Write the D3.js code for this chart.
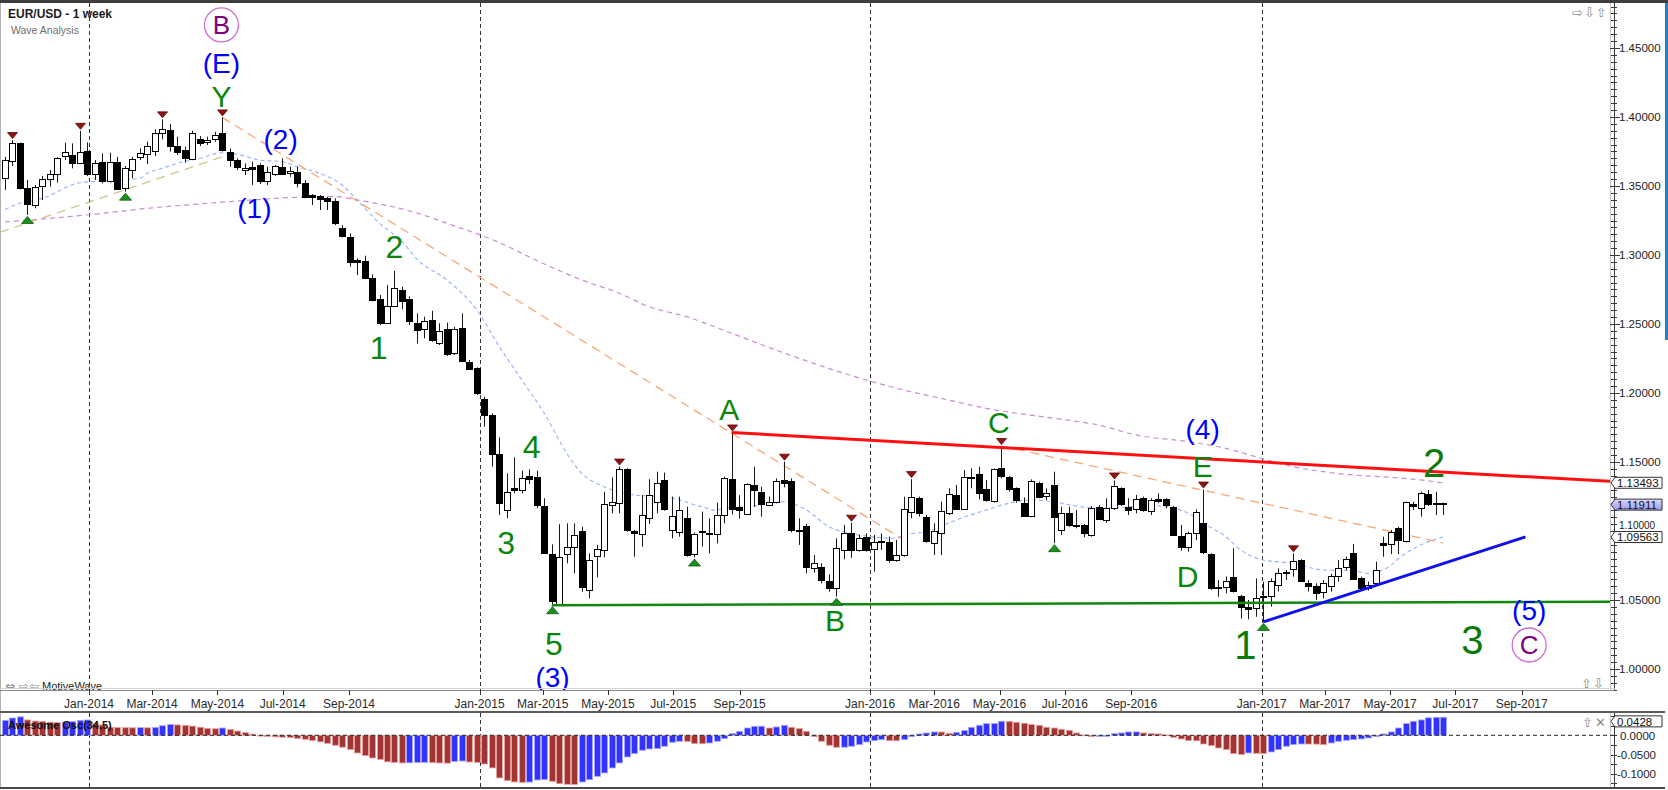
<!DOCTYPE html>
<html>
<head>
<meta charset="utf-8">
<script src="https://cdn.jsdelivr.net/npm/d3@7"></script>
<style>
  html, body { margin: 0; padding: 0; background: #fff; }
  svg { display: block; font-family: "Liberation Sans", Arial, sans-serif; }
</style>
</head>
<body>
<div id="viz"></div>
<script>
// EUR/USD weekly bars (one bar per week, starting Monday)
const firstWeek = "2013-10-14";

const opens = [
  1.3555,1.3676,1.3809,1.3483,1.3360,1.3500,1.3548,1.3587,1.3712,1.3725,
  1.3669,1.3753,1.3587,1.3676,1.3539,1.3676,1.3483,1.3611,1.3707,1.3737,
  1.3753,1.3881,1.3906,1.3792,1.3761,1.3693,1.3838,1.3816,1.3840,1.3886,
  1.3749,1.3688,1.3621,1.3640,1.3652,1.3538,1.3587,1.3640,1.3597,1.3604,
  1.3524,1.3434,1.3430,1.3415,1.3393,1.3193,1.3128,1.2964,1.2955,1.2835,
  1.2678,1.2505,1.2630,1.2746,1.2679,1.2505,1.2468,1.2529,1.2360,1.2461,
  1.2287,1.2473,1.2227,1.2179,1.1954,1.1841,1.1558,1.1152,1.1309,1.1297,
  1.1399,1.1394,1.1181,1.0831,1.0471,1.0833,1.0886,1.1000,1.0573,1.0819,
  1.0862,1.1189,1.1206,1.1449,1.1001,1.0979,1.1092,1.1205,1.1370,1.1007,
  1.0995,1.1092,1.0831,1.0997,1.0985,1.0978,1.1116,1.1377,1.1176,1.1123,
  1.1333,1.1285,1.1188,1.1212,1.1370,1.1362,1.1005,1.1036,1.0730,1.0742,
  1.0638,1.0584,1.0862,1.0983,1.0862,1.0954,1.0874,1.0925,1.0923,1.0790,
  1.0826,1.1140,1.1237,1.1104,1.0911,1.0988,1.1133,1.1261,1.1157,1.1394,
  1.1413,1.1302,1.1213,1.1454,1.1389,1.1309,1.1205,1.1108,1.1350,1.1249,
  1.1333,1.1012,1.1128,1.1043,1.1043,1.0971,1.1172,1.1080,1.1164,1.1309,
  1.1176,1.1157,1.1237,1.1147,1.1232,1.1232,1.1176,1.0964,1.0882,1.0990,
  1.1060,1.0833,1.0592,1.0597,1.0664,1.0529,1.0452,1.0447,1.0519,1.0529,
  1.0609,1.0705,1.0722,1.0790,1.0626,1.0604,1.0553,1.0604,1.0675,1.0735,
  1.0838,1.0657,1.0585,1.0621,1.0915,1.0911,1.1024,1.0923,1.1193,1.1164,
  1.1266,1.1201,1.1201
];
const highs = [
  1.3712,1.3833,1.3814,1.3543,1.3507,1.3572,1.3616,1.3708,1.3814,1.3809,
  1.3900,1.3816,1.3688,1.3737,1.3741,1.3712,1.3645,1.3712,1.3773,1.3821,
  1.3910,1.3983,1.3949,1.3857,1.3785,1.3901,1.3862,1.3857,1.3893,1.3997,
  1.3773,1.3700,1.3664,1.3676,1.3664,1.3640,1.3652,1.3700,1.3640,1.3640,
  1.3543,1.3442,1.3435,1.3422,1.3410,1.3217,1.3157,1.2976,1.2995,1.2860,
  1.2710,1.2783,1.2885,1.2770,1.2700,1.2577,1.2553,1.2596,1.2505,1.2510,
  1.2480,1.2577,1.2239,1.2186,1.1973,1.1853,1.1679,1.1418,1.1534,1.1437,
  1.1447,1.1437,1.1237,1.0903,1.1049,1.1055,1.1055,1.1031,1.0838,1.0899,
  1.1285,1.1389,1.1467,1.1455,1.1007,1.1261,1.1375,1.1430,1.1423,1.1249,
  1.1249,1.1176,1.0988,1.1140,1.1092,1.1205,1.1394,1.1714,1.1260,1.1345,
  1.1466,1.1321,1.1249,1.1381,1.1502,1.1381,1.1092,1.1051,1.0826,1.0766,
  1.0686,1.0947,1.1044,1.1060,1.0971,1.0983,1.0971,1.0983,1.0959,1.0935,
  1.1249,1.1376,1.1249,1.1116,1.1055,1.1213,1.1309,1.1333,1.1442,1.1454,
  1.1466,1.1370,1.1454,1.1616,1.1398,1.1316,1.1244,1.1374,1.1358,1.1309,
  1.1430,1.1176,1.1176,1.1152,1.1051,1.1181,1.1188,1.1237,1.1366,1.1316,
  1.1237,1.1261,1.1249,1.1237,1.1273,1.1237,1.1181,1.1044,1.0995,1.1157,
  1.1300,1.0838,1.0645,1.0671,1.0875,1.0536,1.0500,1.0657,1.0633,1.0657,
  1.0729,1.0717,1.0838,1.0795,1.0645,1.0621,1.0645,1.0689,1.0790,1.0814,
  1.0906,1.0669,1.0633,1.0778,1.0959,1.1007,1.1031,1.1213,1.1213,1.1285,
  1.1297,1.1285,1.1205
];
const lows = [
  1.3471,1.3645,1.3476,1.3290,1.3338,1.3398,1.3495,1.3524,1.3688,1.3628,
  1.3659,1.3572,1.3543,1.3519,1.3524,1.3471,1.3459,1.3555,1.3688,1.3659,
  1.3717,1.3838,1.3749,1.3724,1.3669,1.3688,1.3790,1.3797,1.3821,1.3749,
  1.3640,1.3616,1.3580,1.3507,1.3514,1.3507,1.3572,1.3580,1.3567,1.3490,
  1.3410,1.3362,1.3326,1.3326,1.3217,1.3128,1.2915,1.2855,1.2825,1.2665,
  1.2493,1.2500,1.2626,1.2606,1.2493,1.2358,1.2396,1.2372,1.2348,1.2268,
  1.2275,1.2227,1.2167,1.1986,1.1756,1.1466,1.1116,1.1092,1.1273,1.1273,
  1.1341,1.1164,1.0833,1.0462,1.0464,1.0766,1.0693,1.0560,1.0512,1.0664,
  1.0809,1.1128,1.1128,1.0995,1.0814,1.0886,1.1050,1.1128,1.1147,1.0947,
  1.0959,1.0814,1.0808,1.0886,1.0838,1.0910,1.1055,1.1120,1.1090,1.1116,
  1.1176,1.1104,1.1181,1.1200,1.1316,1.0990,1.0899,1.0693,1.0698,1.0621,
  1.0560,1.0524,1.0795,1.0805,1.0850,1.0850,1.0705,1.0862,1.0771,1.0778,
  1.0814,1.1092,1.1104,1.0916,1.0826,1.0826,1.1116,1.1152,1.1152,1.1309,
  1.1229,1.1213,1.1205,1.1382,1.1285,1.1205,1.1104,1.1099,1.1237,1.1225,
  1.0912,1.0971,1.1031,1.1019,1.0954,1.0959,1.1080,1.1060,1.1152,1.1181,
  1.1116,1.1128,1.1140,1.1116,1.1201,1.1164,1.0964,1.0857,1.0850,1.0935,
  1.0833,1.0573,1.0524,1.0548,1.0554,1.0365,1.0360,1.0379,1.0341,1.0452,
  1.0561,1.0645,1.0669,1.0633,1.0561,1.0500,1.0512,1.0561,1.0633,1.0717,
  1.0645,1.0573,1.0568,1.0609,1.0814,1.0833,1.0833,1.0916,1.1152,1.1104,
  1.1181,1.1116,1.1116
];
const closes = [
  1.3688,1.3809,1.3483,1.3367,1.3490,1.3548,1.3587,1.3700,1.3744,1.3664,
  1.3749,1.3587,1.3669,1.3539,1.3676,1.3483,1.3628,1.3693,1.3737,1.3792,
  1.3881,1.3910,1.3792,1.3749,1.3700,1.3881,1.3809,1.3833,1.3869,1.3761,
  1.3693,1.3635,1.3633,1.3628,1.3538,1.3604,1.3645,1.3592,1.3611,1.3524,
  1.3422,1.3422,1.3410,1.3393,1.3234,1.3133,1.2947,1.2952,1.2835,1.2678,
  1.2505,1.2630,1.2758,1.2669,1.2517,1.2452,1.2524,1.2384,1.2449,1.2283,
  1.2461,1.2232,1.2174,1.1998,1.1841,1.1558,1.1200,1.1280,1.1297,1.1382,
  1.1377,1.1189,1.0838,1.0488,1.0814,1.0886,1.0971,1.0597,1.0790,1.0867,
  1.1196,1.1208,1.1449,1.1007,1.0990,1.1116,1.1261,1.1346,1.1157,1.1111,
  1.1152,1.0826,1.0976,1.0990,1.0978,1.1116,1.1386,1.1157,1.1152,1.1338,
  1.1297,1.1200,1.1207,1.1362,1.1345,1.1007,1.1000,1.0742,1.0766,1.0645,
  1.0589,1.0874,1.0983,1.0862,1.0947,1.0862,1.0923,1.0916,1.0790,1.0826,
  1.1157,1.1249,1.1128,1.0930,1.1000,1.1145,1.1268,1.1157,1.1389,1.1389,
  1.1273,1.1220,1.1447,1.1399,1.1302,1.1220,1.1108,1.1362,1.1249,1.1273,
  1.1099,1.1133,1.1043,1.1036,1.0983,1.1164,1.1084,1.1164,1.1326,1.1196,
  1.1152,1.1230,1.1152,1.1225,1.1220,1.1189,1.0971,1.0882,1.0983,1.1140,
  1.0850,1.0585,1.0585,1.0640,1.0561,1.0452,1.0435,1.0517,1.0529,1.0638,
  1.0698,1.0698,1.0783,1.0638,1.0604,1.0553,1.0621,1.0675,1.0735,1.0795,
  1.0652,1.0585,1.0609,1.0718,1.0899,1.0995,1.0935,1.1208,1.1176,1.1273,
  1.1193,1.1193,1.1191
];

// Awesome Oscillator (34,5), one value per bar
const aoValues = [
  0.039,0.045,0.048,0.040,0.037,0.036,0.034,0.033,0.034,0.036,
  0.039,0.040,0.030,0.027,0.021,0.020,0.0198,0.0195,0.0200,0.0195,
  0.0205,0.025,0.028,0.027,0.026,0.024,0.021,0.018,0.017,0.019,
  0.015,0.011,0.007,0.003,-0.0015,-0.003,-0.004,-0.005,-0.006,-0.008,
  -0.0104,-0.014,-0.017,-0.021,-0.026,-0.031,-0.037,-0.046,-0.053,-0.059,
  -0.063,-0.069,-0.0705,-0.072,-0.0715,-0.071,-0.0705,-0.0712,-0.072,-0.0725,
  -0.068,-0.067,-0.0695,-0.0705,-0.0747,-0.085,-0.111,-0.118,-0.1215,-0.1225,
  -0.1218,-0.1163,-0.1155,-0.1198,-0.126,-0.1275,-0.128,-0.1215,-0.1155,-0.1068,
  -0.098,-0.085,-0.072,-0.0564,-0.0477,-0.039,-0.0356,-0.0347,-0.0286,-0.0182,
  -0.0156,-0.0160,-0.0217,-0.0220,-0.020,-0.0156,-0.0087,0.0043,0.0104,0.019,
  0.0234,0.0236,0.019,0.0217,0.026,0.0208,0.0174,0.0104,-0.0035,-0.0156,
  -0.026,-0.0312,-0.0310,-0.0286,-0.0243,-0.0174,-0.0139,-0.0113,-0.0139,-0.0142,
  -0.0113,-0.0035,0.0035,0.006,0.0087,0.0085,0.0052,0.0078,0.0122,0.0208,
  0.026,0.0304,0.0310,0.0365,0.0362,0.0339,0.0313,0.0278,0.026,0.0208,
  0.019,0.0156,0.013,0.0061,0.001,-0.0035,-0.0033,-0.0026,0.0043,0.0061,
  0.0087,0.0089,0.0061,0.0043,0.0035,0.0009,-0.0052,-0.0095,-0.0139,-0.0142,
  -0.0226,-0.0269,-0.033,-0.0373,-0.0477,-0.0503,-0.046,-0.0469,-0.0472,-0.0434,
  -0.0373,-0.0286,-0.0243,-0.0226,-0.0228,-0.0230,-0.0243,-0.020,-0.0156,-0.013,
  -0.0113,-0.0095,-0.0069,-0.0035,0.0035,0.0087,0.019,0.0304,0.0365,0.040,
  0.0455,0.0468,0.0470
];

// swing markers (bar numbers)
const swingHighs = [1, 10, 21, 29, 82, 97, 104, 113, 121, 133, 148, 160, 172];
const swingLows = [3, 16, 73, 92, 111, 140, 168];

// moving averages as drawn: [bar, price]
const fastMA = [
  [0,1.3330],[2,1.3375],[5,1.3411],[10,1.3524],[13,1.3536],[15,1.3543],[18,1.3556],
  [19,1.3592],[21,1.3628],[23,1.3664],[26,1.3701],[29,1.3741],[31,1.3730],[34,1.3688],
  [37,1.3676],[39,1.3640],[42,1.3592],[45,1.3507],[47,1.3399],[50,1.3230],[53,1.3100],
  [55,1.2970],[59,1.2819],[63,1.2601],[66,1.2336],[69,1.2094],[72,1.1853],[75,1.1563],
  [77,1.1418],[80,1.1321],[84,1.1261],[88,1.1249],[93,1.1176],[95,1.1150],[96,1.1164],
  [100,1.1181],[104,1.1212],[107,1.1152],[110,1.1031],[113,1.0983],[119,1.0947],
  [120,1.0971],[123,1.0995],[127,1.1080],[131,1.1152],[134,1.1201],[137,1.1225],
  [140,1.1212],[143,1.1181],[146,1.1164],[149,1.1172],[154,1.1181],[158,1.1128],
  [160,1.1056],[163,1.0959],[165,1.0862],[168,1.0790],[172,1.0766],[176,1.0717],
  [180,1.0712],[182,1.0693],[184,1.0717],[187,1.0838],[189,1.0899],[192,1.0956]
];
const slowMA = [
  [0,1.3240],[6,1.3266],[13,1.3302],[19,1.3338],[26,1.3370],[33,1.3399],[39,1.3418],
  [44,1.3423],[47,1.3399],[55,1.3304],[59,1.3230],[66,1.3090],[71,1.2960],[77,1.2819],
  [82,1.2723],[86,1.2625],[91,1.2553],[97,1.2433],[103,1.2310],[111,1.2160],[119,1.2035],
  [126,1.1949],[131,1.1889],[140,1.1817],[146,1.1768],[151,1.1696],[158,1.1647],
  [163,1.1599],[167,1.1538],[171,1.1478],[176,1.1430],[180,1.1406],[185,1.1389],
  [189,1.1370],[192,1.1349]
];

// drawn trend lines: [week, price]
const redLine = [["2015-08-24", 1.1714], ["2017-06-19", 1.1427]];
const greenLine = [["2015-03-09", 1.0462], ["2017-06-19", 1.0484]];
const blueLine = [["2017-01-02", 1.0341], ["2017-09-04", 1.0957]];
const orangeLineA = [["2014-05-05", 1.3997], ["2016-02-01", 1.0935]];
const orangeLineB = [["2016-05-02", 1.1616], ["2017-06-19", 1.0914]];
const tanLine = [["2013-11-04", 1.3232], ["2014-05-05", 1.3712]];

// wave labels
const waveText = ["B","(E)","Y","(2)","(1)","2","1","4","3","5","(3)","A","B","C","(4)","E","D","1","2","(5)","3","C"];
const waveBar = [28.9,28.9,28.9,36.8,33.3,52,49.9,70.3,66.9,73.3,73.1,96.7,110.8,132.7,159.9,159.9,157.9,165.6,190.8,203.5,195.9,203.5];
const wavePrice = [1.4667,1.4391,1.4145,1.3841,1.3341,1.3058,1.2326,1.1609,1.0913,1.0181,0.9942,1.1877,1.0348,1.1783,1.1739,1.1464,1.0667,1.0174,1.1493,1.0428,1.0210,1.0174];
const waveDegree = ["primary","intermediate","minor","intermediate","intermediate","minute","minute","minute","minute","minute","intermediate","minor","minor","minor","intermediate","minor","minor","big","big","intermediate","big","primary"];

const xTickLabels = ["Jan-2014","Mar-2014","May-2014","Jul-2014","Sep-2014",
  "Jan-2015","Mar-2015","May-2015","Jul-2015","Sep-2015",
  "Jan-2016","Mar-2016","May-2016","Jul-2016","Sep-2016",
  "Jan-2017","Mar-2017","May-2017","Jul-2017","Sep-2017"];
const priceTicks = [1.00, 1.05, 1.10, 1.15, 1.20, 1.25, 1.30, 1.35, 1.40, 1.45];
const aoTicks = [0, -0.05, -0.10];

const priceTags = [1.13493, 1.11911, 1.09563];
const currentPrice = 1.11911;
const aoTag = 0.0428;

// ---------------------------------------------------------------------------
const W = 1668, H = 790;
const plotRight = 1610, axisX = 1614;
const mainTop = 3, mainBottom = 690;
const aoTop = 713, aoBottom = 787;

const parseDay = d3.timeParse("%Y-%m-%d");
const parseMonth = d3.timeParse("%b-%Y");
const week0 = parseDay(firstWeek);

const x = d3.scaleTime()
  .domain([new Date(2014, 0, 1), new Date(2017, 0, 1)])
  .range([89, 1261.7]);
const halfDay = 12 * 3600 * 1000;
const barX = i => x(new Date(+week0 + i * 7 * 864e5 + halfDay));
const dayX = s => x(new Date(+parseDay(s) + halfDay));

const y = d3.scaleLinear().domain([1.0, 1.45]).range([669, 48]);
const yAO = d3.scaleLinear().domain([0, -0.1]).range([735.3, 773.7]);

const svg = d3.select("#viz").append("svg")
  .attr("width", W).attr("height", H);

const defs = svg.append("defs");
defs.append("clipPath").attr("id", "clipMain")
  .append("rect").attr("x", 0).attr("y", mainTop).attr("width", plotRight).attr("height", mainBottom - mainTop);
defs.append("clipPath").attr("id", "clipAO")
  .append("rect").attr("x", 0).attr("y", aoTop).attr("width", plotRight).attr("height", aoBottom - aoTop);
const grad = defs.append("linearGradient").attr("id", "curTag").attr("x1", 0).attr("y1", 0).attr("x2", 0).attr("y2", 1);
grad.append("stop").attr("offset", "0%").attr("stop-color", "#d8d8fb");
grad.append("stop").attr("offset", "100%").attr("stop-color", "#9c9cec");

// frame
svg.append("rect").attr("x", 0).attr("y", 0).attr("width", W).attr("height", 3).attr("fill", "#3d3d3d");
svg.append("rect").attr("x", 1665).attr("y", 3).attr("width", 3).attr("height", 337).attr("fill", "#1f7fd6");
svg.append("line").attr("x1", 0.5).attr("x2", 0.5).attr("y1", 3).attr("y2", aoBottom).attr("stroke", "#b0b0b0");
svg.append("line").attr("x1", plotRight + 0.5).attr("x2", plotRight + 0.5).attr("y1", mainTop).attr("y2", mainBottom)
  .attr("stroke", "#c8c8c8");
svg.append("line").attr("x1", plotRight + 0.5).attr("x2", plotRight + 0.5).attr("y1", aoTop).attr("y2", aoBottom)
  .attr("stroke", "#c8c8c8");

// year separators
const janDates = xTickLabels.filter(s => s.startsWith("Jan")).map(parseMonth);
[[mainTop, mainBottom], [aoTop, aoBottom]].forEach(([t, b]) => {
  svg.append("g").selectAll("line").data(janDates).join("line")
    .attr("x1", d => Math.round(x(d)) + 0.5).attr("x2", d => Math.round(x(d)) + 0.5)
    .attr("y1", t).attr("y2", b)
    .attr("stroke", "#333").attr("stroke-dasharray", "4,3");
});

// ---------------- main panel ----------------
const main = svg.append("g").attr("clip-path", "url(#clipMain)");

const maLine = d3.line().x(d => barX(d[0])).y(d => y(d[1])).curve(d3.curveMonotoneX);
main.append("path").attr("d", maLine(slowMA)).attr("fill", "none")
  .attr("stroke", "#c98bd3").attr("stroke-width", 1.2).attr("stroke-dasharray", "5,4");
main.append("path").attr("d", maLine(fastMA)).attr("fill", "none")
  .attr("stroke", "#93b1ff").attr("stroke-width", 1.1).attr("stroke-dasharray", "4,3");

function segment(anchors, extendLeft, extendRight) {
  const p = anchors.map(([d, v]) => [dayX(d), y(v)]);
  const k = (p[1][1] - p[0][1]) / (p[1][0] - p[0][0]);
  const x0 = extendLeft === undefined ? p[0][0] : extendLeft;
  const x1 = extendRight === undefined ? p[1][0] : extendRight;
  return [[x0, p[0][1] + k * (x0 - p[0][0])], [x1, p[0][1] + k * (x1 - p[0][0])]];
}
const straight = d3.line();

main.append("path").attr("d", straight(segment(tanLine, 0))).attr("fill", "none")
  .attr("stroke", "#cfc58a").attr("stroke-width", 1.3).attr("stroke-dasharray", "9,6");
[orangeLineA, orangeLineB].forEach(l => {
  main.append("path").attr("d", straight(segment(l))).attr("fill", "none")
    .attr("stroke", "#f7a878").attr("stroke-width", 1.3).attr("stroke-dasharray", "9,6");
});

// candles
const idx = d3.range(opens.length);
main.append("g").selectAll("line").data(idx).join("line")
  .attr("x1", i => Math.round(barX(i)) + 0.5).attr("x2", i => Math.round(barX(i)) + 0.5)
  .attr("y1", i => y(highs[i])).attr("y2", i => y(lows[i]))
  .attr("stroke", "#1a1a1a").attr("stroke-width", 1);
main.append("g").selectAll("rect").data(idx).join("rect")
  .attr("x", i => Math.round(barX(i)) - 2.5)
  .attr("width", 6)
  .attr("y", i => Math.round(y(Math.max(opens[i], closes[i]))) + 0.5)
  .attr("height", i => Math.max(1, Math.round(Math.abs(y(opens[i]) - y(closes[i])))))
  .attr("fill", i => closes[i] >= opens[i] ? "#fff" : "#000")
  .attr("stroke", "#000").attr("stroke-width", 1);

// trend lines
main.append("path").attr("d", straight(segment(greenLine, undefined, plotRight))).attr("fill", "none")
  .attr("stroke", "#118811").attr("stroke-width", 2.5);
main.append("path").attr("d", straight(segment(redLine, undefined, plotRight))).attr("fill", "none")
  .attr("stroke", "#ff1010").attr("stroke-width", 3);
main.append("path").attr("d", straight(segment(blueLine))).attr("fill", "none")
  .attr("stroke", "#1010ee").attr("stroke-width", 3);

// swing markers
main.append("g").selectAll("path").data(swingHighs).join("path")
  .attr("d", i => {
    const cx = Math.round(barX(i)) + 0.5, t = y(highs[i]) - 1.5;
    return `M${cx},${t} L${cx - 5},${t - 6} L${cx + 5},${t - 6} Z`;
  })
  .attr("fill", "#8e1414").attr("stroke", "#5a0808").attr("stroke-width", 0.8);
main.append("g").selectAll("path").data(swingLows).join("path")
  .attr("d", i => {
    const cx = Math.round(barX(i)) + 0.5, t = y(lows[i]) + 1.5;
    return `M${cx},${t} L${cx - 6},${t + 7} L${cx + 6},${t + 7} Z`;
  })
  .attr("fill", "#1b8f1b").attr("stroke", "#0c5a0c").attr("stroke-width", 0.8);

// wave labels
const degreeStyle = {
  primary: { size: 26, fill: "#800080" },
  intermediate: { size: 28, fill: "#0000ff" },
  minor: { size: 30, fill: "#0a870a" },
  minute: { size: 32, fill: "#0a870a" },
  big: { size: 40, fill: "#0a7a0a" }
};
const labels = main.append("g");
waveText.forEach((t, k) => {
  const st = degreeStyle[waveDegree[k]];
  const cx = barX(waveBar[k]), cy = y(wavePrice[k]);
  if (waveDegree[k] === "primary") {
    labels.append("circle").attr("cx", cx).attr("cy", cy).attr("r", 17)
      .attr("fill", "none").attr("stroke", "#cf6fcf").attr("stroke-width", 1.3);
  }
  labels.append("text").attr("x", cx).attr("y", cy + st.size * 0.35)
    .attr("text-anchor", "middle").attr("font-size", st.size).attr("fill", st.fill)
    .text(t);
});

// header
svg.append("text").attr("x", 8).attr("y", 18).attr("font-size", 12).attr("font-weight", "bold")
  .attr("fill", "#1a1a1a").text("EUR/USD - 1 week");
svg.append("text").attr("x", 11).attr("y", 34).attr("font-size", 10.5)
  .attr("fill", "#6e6e6e").text("Wave Analysis");
svg.append("text").attr("x", 1572).attr("y", 17).attr("font-family", "DejaVu Sans").attr("font-size", 13)
  .attr("fill", "#8c8c8c").attr("letter-spacing", 1).text("⇨⇩⇧");
svg.append("text").attr("x", 1581).attr("y", 688).attr("font-family", "DejaVu Sans").attr("font-size", 13)
  .attr("fill", "#8c8c8c").attr("letter-spacing", 1).text("⇧⇩");
svg.append("text").attr("x", 5).attr("y", 690).attr("font-family", "DejaVu Sans").attr("font-size", 12)
  .attr("fill", "#8c8c8c").text("⇔ ⇨⇦");
svg.append("text").attr("x", 42).attr("y", 690).attr("font-size", 11)
  .attr("fill", "#222").text("MotiveWave");

// price axis
const minor = d3.range(197, 297).map(k => k * 0.005);
svg.append("line").attr("x1", axisX + 0.5).attr("x2", axisX + 0.5).attr("y1", mainTop).attr("y2", mainBottom)
  .attr("stroke", "#3a3a3a");
svg.append("g").selectAll("line").data(minor).join("line")
  .attr("x1", axisX - 3).attr("x2", axisX + 3)
  .attr("y1", d => Math.round(y(d)) + 0.5).attr("y2", d => Math.round(y(d)) + 0.5)
  .attr("stroke", "#3a3a3a");
svg.append("g").selectAll("line").data(priceTicks).join("line")
  .attr("x1", axisX - 4).attr("x2", axisX + 6)
  .attr("y1", d => Math.round(y(d)) + 0.5).attr("y2", d => Math.round(y(d)) + 0.5)
  .attr("stroke", "#3a3a3a");

// a tick label that would sit under a value tag is nudged just above it
priceTicks.forEach(d => {
  const hit = priceTags.find(v => Math.abs(y(v) - y(d)) < 12);
  const t = svg.append("text").attr("x", 1619).attr("font-size", 11.5).attr("fill", "#222")
    .text(d.toFixed(5));
  if (hit !== undefined) {
    t.attr("y", y(hit) - 8.5).attr("font-size", 10);
  } else {
    t.attr("y", y(d) + 4.2);
  }
});

function tag(g, v, yy, fill) {
  const t = yy - 5.5, b = yy + 5.5;
  g.append("path")
    .attr("d", `M${axisX - 3},${yy} L${axisX + 1},${t} L1662,${t} L1662,${b} L${axisX + 1},${b} Z`)
    .attr("fill", fill).attr("stroke", "#333").attr("stroke-width", 1);
  g.append("text").attr("x", axisX + 3).attr("y", yy + 4.2)
    .attr("font-size", 11.5).attr("fill", "#111").text(v);
}
const tags = svg.append("g");
priceTags.forEach(v => tag(tags, v.toFixed(5), y(v), v === currentPrice ? "url(#curTag)" : "#fff"));

// time axis
svg.append("line").attr("x1", 0).attr("x2", axisX + 1).attr("y1", mainBottom + 0.5).attr("y2", mainBottom + 0.5)
  .attr("stroke", "#8a8a8a");
svg.append("line").attr("x1", 0).attr("x2", axisX + 1).attr("y1", mainBottom - 1.5).attr("y2", mainBottom - 1.5)
  .attr("stroke", "#d4d4d4");
const tickDates = xTickLabels.map(parseMonth);
svg.append("g").selectAll("line").data(tickDates).join("line")
  .attr("x1", d => Math.round(x(d)) + 0.5).attr("x2", d => Math.round(x(d)) + 0.5)
  .attr("y1", mainBottom).attr("y2", mainBottom + 5)
  .attr("stroke", "#333");
svg.append("g").selectAll("text").data(xTickLabels).join("text")
  .attr("x", (s, k) => x(tickDates[k])).attr("y", 708)
  .attr("text-anchor", "middle").attr("font-size", 12).attr("fill", "#2a2a2a")
  .text(s => s);
svg.append("rect").attr("x", 0).attr("y", 711).attr("width", W - 3).attr("height", 2).attr("fill", "#5c5c5c");

// ---------------- oscillator panel ----------------
const ao = svg.append("g").attr("clip-path", "url(#clipAO)");
ao.append("g").selectAll("rect").data(idx).join("rect")
  .attr("x", i => Math.round(barX(i)) - 2.5)
  .attr("width", 6)
  .attr("y", i => Math.min(yAO(aoValues[i]), yAO(0)))
  .attr("height", i => Math.max(0.8, Math.abs(yAO(aoValues[i]) - yAO(0))))
  .attr("fill", i => (i === 0 || aoValues[i] >= aoValues[i - 1]) ? "#3333ff" : "#a33434")
  .attr("stroke", i => (i === 0 || aoValues[i] >= aoValues[i - 1]) ? "#a8a8ff" : "#e8a0a0")
  .attr("stroke-width", 0.8);
svg.append("line").attr("x1", 0).attr("x2", axisX).attr("y1", yAO(0)).attr("y2", yAO(0))
  .attr("stroke", "#222").attr("stroke-dasharray", "4,3");
svg.append("text").attr("x", 8).attr("y", 729).attr("font-size", 11).attr("font-weight", "bold")
  .attr("fill", "#111").text("Awesome Osc(34,5)");
svg.append("text").attr("x", 1582).attr("y", 727).attr("font-family", "DejaVu Sans").attr("font-size", 13)
  .attr("fill", "#8c8c8c").attr("letter-spacing", 2).text("⇧✕");

const aoMinor = d3.range(-5, 3).map(k => k * 0.025);
svg.append("line").attr("x1", axisX + 0.5).attr("x2", axisX + 0.5).attr("y1", aoTop).attr("y2", aoBottom)
  .attr("stroke", "#3a3a3a");
svg.append("g").selectAll("line").data(aoMinor.filter(v => yAO(v) > aoTop && yAO(v) < aoBottom)).join("line")
  .attr("x1", axisX - 3).attr("x2", axisX + 3)
  .attr("y1", d => Math.round(yAO(d)) + 0.5).attr("y2", d => Math.round(yAO(d)) + 0.5)
  .attr("stroke", "#3a3a3a");
const fmtAO = v => (v < 0 ? "-" : "") + Math.abs(v).toFixed(4);
svg.append("g").selectAll("text").data(aoTicks).join("text")
  .attr("x", d => d < 0 ? 1617 : 1620).attr("y", d => yAO(d) + 4.2)
  .attr("font-size", 11.5).attr("fill", "#222")
  .text(fmtAO);
tag(svg.append("g"), fmtAO(aoTag), yAO(aoTag) + 2.5, "#fff");

svg.append("rect").attr("x", 0).attr("y", aoBottom).attr("width", W - 3).attr("height", 2).attr("fill", "#4a4a4a");
</script>
</body>
</html>
